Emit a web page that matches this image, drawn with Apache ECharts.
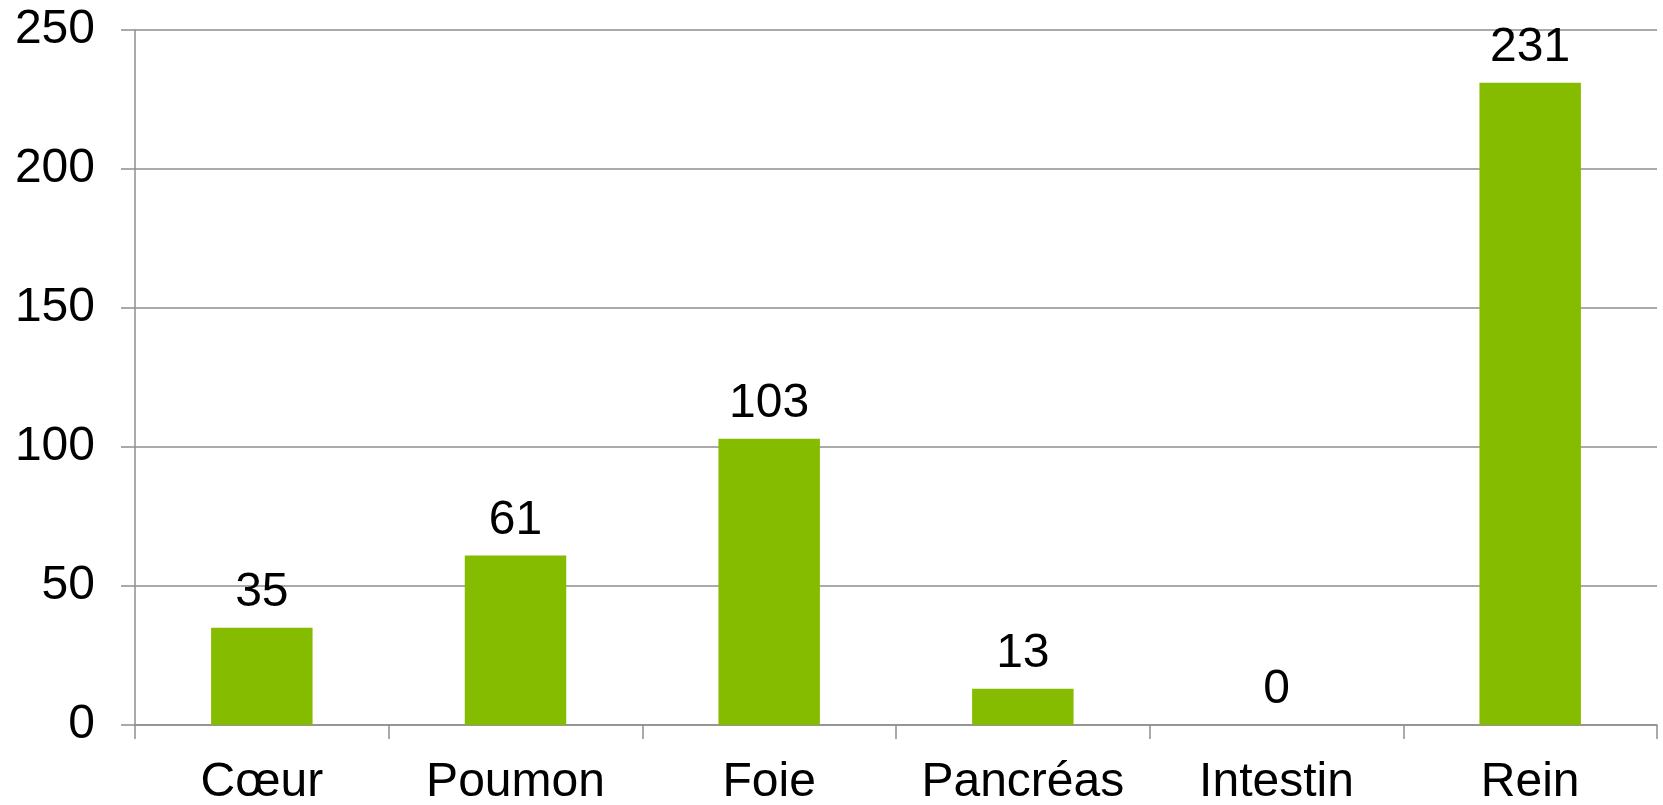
<!DOCTYPE html>
<html>
<head>
<meta charset="utf-8">
<script src="https://cdn.jsdelivr.net/npm/echarts@6/dist/echarts.min.js"></script>
<style>
  html, body { margin: 0; padding: 0; background: #fff; }
  #chart { width: 1663px; height: 805px; }
</style>
</head>
<body>
<div id="chart"></div>
<script>
// données
var categories = ['Cœur', 'Poumon', 'Foie', 'Pancréas', 'Intestin', 'Rein'];
var values = [35, 61, 103, 13, 0, 231];
var yTicks = [0, 50, 100, 150, 200, 250];

var myChart = echarts.init(document.getElementById('chart'));
var lineColor = '#8e8e8e';
var font = '"Liberation Sans", Arial, sans-serif';

var option = {
    backgroundColor: '#ffffff',
    animation: false,
    grid: {
        left: 135,
        right: 6,
        top: 30,
        bottom: 80,
        containLabel: false,
        outerBoundsMode: 'none'
    },
    xAxis: {
        type: 'category',
        data: categories,
        axisLine: { show: true, lineStyle: { color: lineColor, width: 1.5 } },
        axisTick: { show: true, length: 14, interval: 0, lineStyle: { color: lineColor, width: 1.5 } },
        axisLabel: {
            interval: 0,
            hideOverlap: false,
            color: '#000',
            fontFamily: font,
            fontSize: 48,
            margin: 34
        }
    },
    yAxis: {
        type: 'value',
        min: yTicks[0],
        max: yTicks[yTicks.length - 1],
        interval: 50,
        axisLine: { show: true, lineStyle: { color: lineColor, width: 1.5 } },
        axisTick: { show: true, length: 14, lineStyle: { color: lineColor, width: 1.5 } },
        axisLabel: {
            color: '#000',
            fontFamily: font,
            fontSize: 48,
            margin: 40
        },
        splitLine: { show: true, lineStyle: { color: lineColor, width: 1.5 } }
    },
    series: [
        {
            type: 'bar',
            data: values,
            barWidth: '40%',
            itemStyle: { color: '#86bc00' },
            label: {
                show: true,
                position: 'top',
                distance: 11,
                color: '#000',
                fontFamily: font,
                fontSize: 48
            }
        }
    ]
};
myChart.setOption(option);
</script>
</body>
</html>
